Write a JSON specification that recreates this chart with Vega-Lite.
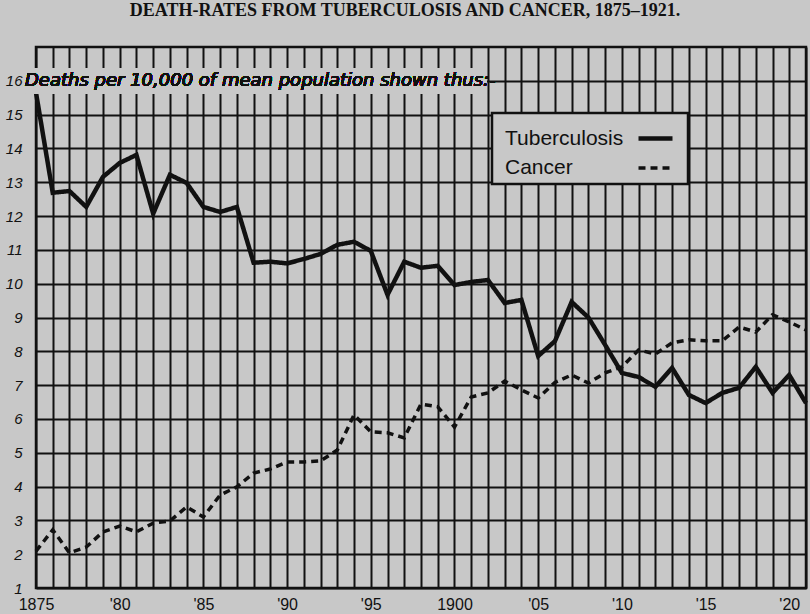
{
  "$schema": "https://vega.github.io/schema/vega-lite/v6.json",
  "width": 770,
  "height": 541,
  "autosize": "none",
  "padding": {"left": 36, "top": 47, "right": 4, "bottom": 26},
  "background": "#c8c8c8",
  "title": {
    "text": "DEATH-RATES FROM TUBERCULOSIS AND CANCER, 1875–1921.",
    "font": "Liberation Serif",
    "fontSize": 18,
    "fontWeight": "bold",
    "color": "#111111",
    "offset": 27,
    "dx": -16
  },
  "config": {"view": {"stroke": "#111111", "strokeWidth": 2.5}, "legend": {"strokeWidth": 2.5}},
  "data": {
    "values": [
      {"year": 1875, "series": "Tuberculosis", "rate": 15.65},
      {"year": 1876, "series": "Tuberculosis", "rate": 12.69},
      {"year": 1877, "series": "Tuberculosis", "rate": 12.74},
      {"year": 1878, "series": "Tuberculosis", "rate": 12.27},
      {"year": 1879, "series": "Tuberculosis", "rate": 13.16},
      {"year": 1880, "series": "Tuberculosis", "rate": 13.57},
      {"year": 1881, "series": "Tuberculosis", "rate": 13.81},
      {"year": 1882, "series": "Tuberculosis", "rate": 12.07},
      {"year": 1883, "series": "Tuberculosis", "rate": 13.22},
      {"year": 1884, "series": "Tuberculosis", "rate": 12.98},
      {"year": 1885, "series": "Tuberculosis", "rate": 12.27},
      {"year": 1886, "series": "Tuberculosis", "rate": 12.12},
      {"year": 1887, "series": "Tuberculosis", "rate": 12.27},
      {"year": 1888, "series": "Tuberculosis", "rate": 10.62},
      {"year": 1889, "series": "Tuberculosis", "rate": 10.65},
      {"year": 1890, "series": "Tuberculosis", "rate": 10.6},
      {"year": 1891, "series": "Tuberculosis", "rate": 10.73},
      {"year": 1892, "series": "Tuberculosis", "rate": 10.88},
      {"year": 1893, "series": "Tuberculosis", "rate": 11.15},
      {"year": 1894, "series": "Tuberculosis", "rate": 11.24},
      {"year": 1895, "series": "Tuberculosis", "rate": 10.97},
      {"year": 1896, "series": "Tuberculosis", "rate": 9.67},
      {"year": 1897, "series": "Tuberculosis", "rate": 10.65},
      {"year": 1898, "series": "Tuberculosis", "rate": 10.47},
      {"year": 1899, "series": "Tuberculosis", "rate": 10.53},
      {"year": 1900, "series": "Tuberculosis", "rate": 9.96},
      {"year": 1901, "series": "Tuberculosis", "rate": 10.05},
      {"year": 1902, "series": "Tuberculosis", "rate": 10.11},
      {"year": 1903, "series": "Tuberculosis", "rate": 9.43},
      {"year": 1904, "series": "Tuberculosis", "rate": 9.52},
      {"year": 1905, "series": "Tuberculosis", "rate": 7.86},
      {"year": 1906, "series": "Tuberculosis", "rate": 8.3},
      {"year": 1907, "series": "Tuberculosis", "rate": 9.46},
      {"year": 1908, "series": "Tuberculosis", "rate": 9.0},
      {"year": 1909, "series": "Tuberculosis", "rate": 8.19},
      {"year": 1910, "series": "Tuberculosis", "rate": 7.36},
      {"year": 1911, "series": "Tuberculosis", "rate": 7.24},
      {"year": 1912, "series": "Tuberculosis", "rate": 6.95},
      {"year": 1913, "series": "Tuberculosis", "rate": 7.51},
      {"year": 1914, "series": "Tuberculosis", "rate": 6.71},
      {"year": 1915, "series": "Tuberculosis", "rate": 6.47},
      {"year": 1916, "series": "Tuberculosis", "rate": 6.77},
      {"year": 1917, "series": "Tuberculosis", "rate": 6.92},
      {"year": 1918, "series": "Tuberculosis", "rate": 7.54},
      {"year": 1919, "series": "Tuberculosis", "rate": 6.77},
      {"year": 1920, "series": "Tuberculosis", "rate": 7.3},
      {"year": 1921, "series": "Tuberculosis", "rate": 6.47},
      {"year": 1875, "series": "Cancer", "rate": 2.09},
      {"year": 1876, "series": "Cancer", "rate": 2.72},
      {"year": 1877, "series": "Cancer", "rate": 2.04},
      {"year": 1878, "series": "Cancer", "rate": 2.21},
      {"year": 1879, "series": "Cancer", "rate": 2.66},
      {"year": 1880, "series": "Cancer", "rate": 2.83},
      {"year": 1881, "series": "Cancer", "rate": 2.66},
      {"year": 1882, "series": "Cancer", "rate": 2.92},
      {"year": 1883, "series": "Cancer", "rate": 2.98},
      {"year": 1884, "series": "Cancer", "rate": 3.4},
      {"year": 1885, "series": "Cancer", "rate": 3.1},
      {"year": 1886, "series": "Cancer", "rate": 3.75},
      {"year": 1887, "series": "Cancer", "rate": 3.99},
      {"year": 1888, "series": "Cancer", "rate": 4.4},
      {"year": 1889, "series": "Cancer", "rate": 4.52},
      {"year": 1890, "series": "Cancer", "rate": 4.73},
      {"year": 1891, "series": "Cancer", "rate": 4.73},
      {"year": 1892, "series": "Cancer", "rate": 4.76},
      {"year": 1893, "series": "Cancer", "rate": 5.08},
      {"year": 1894, "series": "Cancer", "rate": 6.12},
      {"year": 1895, "series": "Cancer", "rate": 5.62},
      {"year": 1896, "series": "Cancer", "rate": 5.59},
      {"year": 1897, "series": "Cancer", "rate": 5.44},
      {"year": 1898, "series": "Cancer", "rate": 6.44},
      {"year": 1899, "series": "Cancer", "rate": 6.36},
      {"year": 1900, "series": "Cancer", "rate": 5.76},
      {"year": 1901, "series": "Cancer", "rate": 6.65},
      {"year": 1902, "series": "Cancer", "rate": 6.77},
      {"year": 1903, "series": "Cancer", "rate": 7.12},
      {"year": 1904, "series": "Cancer", "rate": 6.86},
      {"year": 1905, "series": "Cancer", "rate": 6.62},
      {"year": 1906, "series": "Cancer", "rate": 7.08},
      {"year": 1907, "series": "Cancer", "rate": 7.3},
      {"year": 1908, "series": "Cancer", "rate": 7.06},
      {"year": 1909, "series": "Cancer", "rate": 7.36},
      {"year": 1910, "series": "Cancer", "rate": 7.54},
      {"year": 1911, "series": "Cancer", "rate": 8.04},
      {"year": 1912, "series": "Cancer", "rate": 7.92},
      {"year": 1913, "series": "Cancer", "rate": 8.25},
      {"year": 1914, "series": "Cancer", "rate": 8.34},
      {"year": 1915, "series": "Cancer", "rate": 8.31},
      {"year": 1916, "series": "Cancer", "rate": 8.31},
      {"year": 1917, "series": "Cancer", "rate": 8.72},
      {"year": 1918, "series": "Cancer", "rate": 8.57},
      {"year": 1919, "series": "Cancer", "rate": 9.08},
      {"year": 1920, "series": "Cancer", "rate": 8.87},
      {"year": 1921, "series": "Cancer", "rate": 8.63}
    ]
  },
  "layer": [
    {
      "mark": {"type": "line", "color": "#111111", "strokeJoin": "miter", "strokeCap": "butt"},
      "encoding": {
        "x": {
          "field": "year",
          "type": "quantitative",
          "scale": {"domain": [1875, 1921], "nice": false, "zero": false},
          "axis": {
            "title": null,
            "values": [1875,1876,1877,1878,1879,1880,1881,1882,1883,1884,1885,1886,1887,1888,1889,1890,1891,1892,1893,1894,1895,1896,1897,1898,1899,1900,1901,1902,1903,1904,1905,1906,1907,1908,1909,1910,1911,1912,1913,1914,1915,1916,1917,1918,1919,1920,1921],
            "tickCount": 200,
            "format": "d",
            "labelExpr": "datum.value % 5 != 0 ? '' : ((datum.value == 1875 || datum.value == 1900) ? datum.label : \"'\" + slice(datum.label, 2))",
            "labelOverlap": false,
            "labelFlush": false,
            "grid": true,
            "gridColor": "#111111",
            "gridWidth": 2,
            "gridOpacity": 1,
            "ticks": false,
            "domain": false,
            "labelFont": "Liberation Sans",
            "labelFontSize": 16,
            "labelColor": "#111111",
            "labelPadding": 8
          }
        },
        "y": {
          "field": "rate",
          "type": "quantitative",
          "scale": {"domain": [1, 17], "nice": false, "zero": false},
          "axis": {
            "title": null,
            "values": [1,2,3,4,5,6,7,8,9,10,11,12,13,14,15,16],
            "tickCount": 100,
            "format": "d",
            "labelFlush": false,
            "labelOverlap": false,
            "grid": true,
            "gridColor": "#111111",
            "gridWidth": 2,
            "gridOpacity": 1,
            "ticks": false,
            "domain": false,
            "labelFont": "Liberation Sans",
            "labelFontStyle": "italic",
            "labelFontSize": 15,
            "labelColor": "#111111",
            "labelPadding": 14
          }
        },
        "strokeDash": {
          "field": "series",
          "type": "nominal",
          "scale": {"domain": ["Tuberculosis", "Cancer"], "range": [[1, 0], [7, 5]]},
          "legend": {
            "title": null,
            "orient": "none",
            "legendX": 456,
            "legendY": 66,
            "padding": 6,
            "fillColor": "#c8c8c8",
            "strokeColor": "#111111",
            "symbolType": "stroke",
            "symbolSize": 1156,
            "symbolStrokeWidth": 3.5,
            "symbolStrokeColor": "#111111",
            "labelFont": "Liberation Sans",
            "labelFontSize": 21,
            "labelColor": "#111111",
            "rowPadding": -9,
            "symbolOffset": 138,
            "labelOffset": -170
          }
        },
        "strokeWidth": {
          "field": "series",
          "type": "nominal",
          "scale": {"domain": ["Tuberculosis", "Cancer"], "range": [4.5, 3.5]},
          "legend": null
        }
      }
    },
    {
      "mark": {"type": "rect", "fill": "#c8c8c8"},
      "encoding": {
        "x": {"datum": 1874.4, "type": "quantitative"},
        "x2": {"datum": 1901.9},
        "y": {"datum": 15.62, "type": "quantitative"},
        "y2": {"datum": 16.38}
      }
    },
    {
      "mark": {
        "type": "text",
        "text": "Deaths per 10,000 of mean population shown thus:-",
        "align": "left",
        "baseline": "middle",
        "dx": -11,
        "font": "DejaVu Sans",
        "fontStyle": "italic",
        "fontSize": 18,
        "color": "#111111"
      },
      "encoding": {
        "x": {"datum": 1875, "type": "quantitative"},
        "y": {"datum": 16, "type": "quantitative"}
      }
    }
  ]
}
